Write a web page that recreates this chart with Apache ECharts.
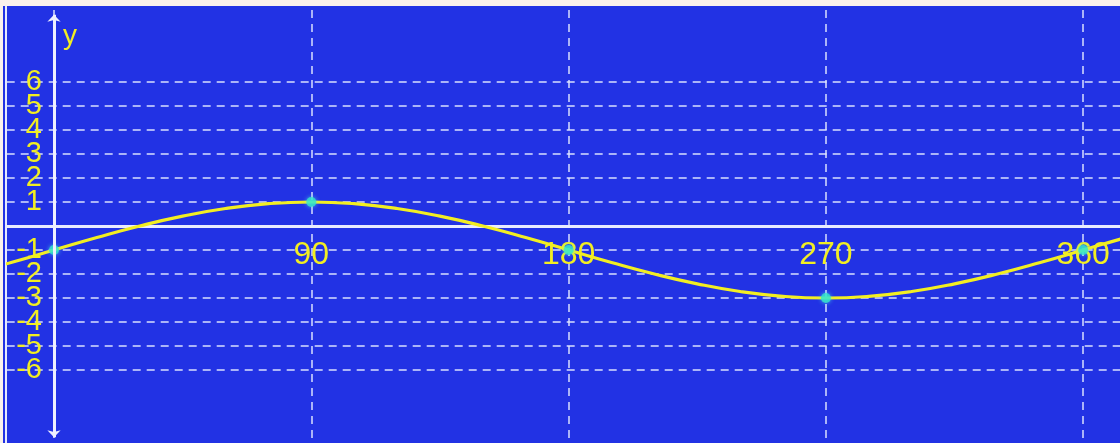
<!DOCTYPE html>
<html>
<head>
<meta charset="utf-8">
<script src="https://cdn.jsdelivr.net/npm/echarts@6/dist/echarts.min.js"></script>
<style>
  html, body { margin: 0; padding: 0; width: 1120px; height: 443px; overflow: hidden; background: #faf1ec; }
  #panel { position: absolute; left: 3px; top: 6px; width: 1117px; height: 437px; background: #2232e4; }
  #edge { position: absolute; left: 5px; top: 6px; width: 2px; height: 437px; background: #e6e9ff; }
  #chart { position: absolute; left: 6px; top: 7px; width: 1114px; height: 436px; }
</style>
</head>
<body>
<div id="panel"></div>
<div id="edge"></div>
<div id="chart"></div>
<script>
// Curve samples (x in degrees, y value)
const xValues = [-30, -15, 0, 15, 30, 45, 60, 75, 90, 105, 120, 135, 150, 165, 180, 195, 210, 225, 240, 255, 270, 285, 300, 315, 330, 345, 360, 375, 390];
const yValues = [-2, -1.52, -1, -0.48, 0, 0.41, 0.73, 0.93, 1, 0.93, 0.73, 0.41, 0, -0.48, -1, -1.52, -2, -2.41, -2.73, -2.93, -3, -2.93, -2.73, -2.41, -2, -1.52, -1, -0.48, 0];
// Highlighted points
const keyX = [0, 90, 180, 270, 360];
const keyY = [-1, 1, -1, -3, -1];
// Tick labels shown
const xTickLabels = [90, 180, 270, 360];
const yTickLabels = [-6, -5, -4, -3, -2, -1, 1, 2, 3, 4, 5, 6];

const yellow = '#f2ee22';
const gridColor = 'rgba(225,230,255,0.72)';

const yMin = -9, yMax = 9;
const ySplitColors = [];
for (let v = yMin; v <= yMax; v++) {
  ySplitColors.push(yTickLabels.indexOf(v) >= 0 ? gridColor : 'rgba(0,0,0,0)');
}

const gridLeft = -209.3, gridTop = 3, gridW = 1543.8, gridH = 432;
const zeroX = 257.3; // px from grid left to x = 0
const zeroYFromBottom = 216; // px from grid bottom to y = 0

const chart = echarts.init(document.getElementById('chart'));
chart.setOption({
  animation: false,
  grid: { left: gridLeft, top: gridTop, width: gridW, height: gridH, containLabel: false, outerBoundsMode: 'none' },
  xAxis: {
    type: 'value', min: -90, max: 450, interval: 90,
    offset: -zeroYFromBottom,
    axisLine: { onZero: false, lineStyle: { color: '#e9ecff', width: 3 } },
    axisTick: { show: false },
    axisLabel: {
      color: yellow, fontSize: 32, fontFamily: 'Liberation Sans', margin: 13,
      formatter: v => xTickLabels.indexOf(v) >= 0 ? String(v) : ''
    },
    splitLine: { show: true, lineStyle: { color: gridColor, width: 2, type: [8, 6] } }
  },
  yAxis: {
    type: 'value', min: yMin, max: yMax, interval: 1,
    offset: -zeroX,
    name: 'y', nameLocation: 'end', nameGap: -40,
    nameTextStyle: { color: yellow, fontSize: 28, fontFamily: 'Liberation Sans', align: 'left', padding: [0, 0, 0, 9] },
    axisLine: { show: false, onZero: false },
    axisTick: { show: false },
    axisLabel: {
      color: yellow, fontSize: 29, fontFamily: 'Liberation Sans', margin: 12,
      formatter: v => yTickLabels.indexOf(v) >= 0 ? String(v) : ''
    },
    splitLine: { show: true, lineStyle: { color: ySplitColors, width: 2, type: [8, 6] } }
  },
  series: [
    {
      type: 'line',
      data: xValues.map((x, i) => [x, yValues[i]]),
      smooth: true,
      showSymbol: false,
      lineStyle: { color: yellow, width: 3.2 },
      z: 3,
      markLine: {
        silent: true,
        symbol: ['arrow', 'arrow'],
        symbolSize: [10, 7],
        label: { show: false },
        lineStyle: { color: '#eef0ff', width: 3, type: 'solid' },
        data: [[{ coord: [0, -8.8] }, { coord: [0, 8.8] }]]
      }
    },
    {
      type: 'scatter',
      data: keyX.map((x, i) => [x, keyY[i]]),
      symbolSize: 10,
      itemStyle: { color: '#35e6c8', shadowColor: 'rgba(80,255,230,0.8)', shadowBlur: 4 },
      z: 4
    }
  ]
});
</script>
</body>
</html>
